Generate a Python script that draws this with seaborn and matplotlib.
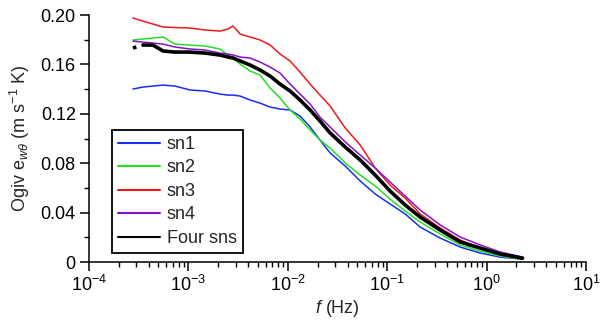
import numpy as np
import pandas as pd
import seaborn as sns
import matplotlib
matplotlib.use("Agg")
import matplotlib.pyplot as plt
from matplotlib.ticker import FixedLocator, MultipleLocator, FuncFormatter

# frequencies (Hz) shared by all series
freq = [2.77e-4, 3.50e-4, 4.40e-4, 5.56e-4, 7.34e-4, 1.04e-3, 1.47e-3, 2.08e-3,
        2.51e-3, 2.82e-3, 3.32e-3, 4.18e-3, 5.27e-3, 6.64e-3, 8.37e-3, 1.055e-2,
        1.33e-2, 1.68e-2, 2.11e-2, 2.67e-2, 3.79e-2, 5.36e-2, 7.59e-2, 0.107,
        0.152, 0.215, 0.342, 0.545, 0.867, 1.38, 2.30]

sn1 = [0.1401, 0.1417, 0.1425, 0.1433, 0.1425, 0.1393, 0.1385, 0.1360, 0.1352, 0.1352,
       0.1344, 0.1312, 0.1287, 0.1255, 0.1239, 0.1231, 0.1182, 0.1093, 0.0988, 0.0883,
       0.0777, 0.0656, 0.0551, 0.0470, 0.0389, 0.0283, 0.0194, 0.0121, 0.0073, 0.0040, 0.0024]
sn2 = [0.1798, 0.1806, 0.1814, 0.1822, 0.1765, 0.1757, 0.1749, 0.1725, 0.1676, 0.1652,
       0.1603, 0.1547, 0.1514, 0.1409, 0.1328, 0.1231, 0.1158, 0.1069, 0.0988, 0.0923,
       0.0802, 0.0704, 0.0615, 0.0510, 0.0413, 0.0324, 0.0227, 0.0138, 0.0089, 0.0049, 0.0024]
sn3 = [0.1976, 0.1951, 0.1927, 0.1903, 0.1899, 0.1895, 0.1879, 0.1870, 0.1887, 0.1911,
       0.1846, 0.1822, 0.1798, 0.1757, 0.1684, 0.1628, 0.1538, 0.1441, 0.1352, 0.1263,
       0.1085, 0.0947, 0.0761, 0.0623, 0.0518, 0.0389, 0.0275, 0.0178, 0.0113, 0.0065, 0.0024]
sn4 = [0.1789, 0.1781, 0.1773, 0.1765, 0.1741, 0.1725, 0.1717, 0.1692, 0.1684, 0.1676,
       0.1660, 0.1652, 0.1619, 0.1579, 0.1530, 0.1441, 0.1360, 0.1279, 0.1174, 0.1093,
       0.0972, 0.0866, 0.0761, 0.0648, 0.0534, 0.0421, 0.0300, 0.0202, 0.0138, 0.0081, 0.0040]
four = [0.1733, 0.1757, 0.1757, 0.1709, 0.1700, 0.1700, 0.1692, 0.1676, 0.1660, 0.1652,
        0.1628, 0.1595, 0.1555, 0.1506, 0.1441, 0.1385, 0.1312, 0.1231, 0.1142, 0.1045,
        0.0931, 0.0826, 0.0704, 0.0575, 0.0462, 0.0364, 0.0259, 0.0162, 0.0113, 0.0065, 0.0032]

names = ["sn1", "sn2", "sn3", "sn4", "Four sns"]
colors = ["#1a2ef0", "#22e022", "#f01818", "#8a10c8", "#000000"]
widths = [1.1, 1.1, 1.1, 1.1, 2.6]

rows = []
for name, vals in zip(names, [sn1, sn2, sn3, sn4, four]):
    for f, v in zip(freq, vals):
        rows.append({"f": f, "ogive": v, "series": name})
df = pd.DataFrame(rows)

sns.set_style("ticks")
plt.rcParams["font.family"] = ["Liberation Sans", "DejaVu Sans"]
plt.rcParams["mathtext.fontset"] = "custom"
plt.rcParams["mathtext.rm"] = "Liberation Sans"
plt.rcParams["mathtext.it"] = "Liberation Sans:italic"
plt.rcParams["mathtext.sf"] = "Liberation Sans"

fig = plt.figure(figsize=(6.01, 3.2), dpi=100)
ax = fig.add_axes([0.148, 0.181, 0.827, 0.772])

for name, col, lw in zip(names, colors, widths):
    sub = df[df["series"] == name]
    if name == "Four sns":
        sns.lineplot(data=sub.iloc[1:], x="f", y="ogive", color=col, lw=lw,
                     label=name, ax=ax)
        sns.lineplot(data=sub.iloc[:2], x="f", y="ogive", color=col, lw=lw,
                     ls=":", ax=ax, legend=False)
    else:
        sns.lineplot(data=sub, x="f", y="ogive", color=col, lw=lw, label=name, ax=ax)

ax.set_xscale("log")
ax.set_xlim(1e-4, 1e1)
ax.set_ylim(0, 0.20)
ax.yaxis.set_major_locator(FixedLocator([0, 0.04, 0.08, 0.12, 0.16, 0.20]))
ax.yaxis.set_minor_locator(MultipleLocator(0.02))
ax.yaxis.set_major_formatter(FuncFormatter(lambda v, p: "0" if abs(v) < 1e-9 else f"{v:.2f}"))

sns.despine(ax=ax)
for s in ["left", "bottom"]:
    ax.spines[s].set_linewidth(1.1)
    ax.spines[s].set_color("black")
ax.tick_params(which="major", direction="out", length=6.5, width=1.1, labelsize=13,
               colors="black", pad=3)
ax.tick_params(which="minor", direction="out", length=3.5, width=1.0, colors="black")

ax.set_xlabel("$f$ (Hz)", fontsize=13, labelpad=2)
ax.set_ylabel(r"Ogiv e$_{w\theta}$ (m s$^{-1}$ K)", fontsize=13, labelpad=6)

leg = ax.legend(loc="lower left", bbox_to_anchor=(0.046, 0.036), fontsize=13,
                frameon=True, fancybox=False, edgecolor="black", framealpha=1,
                handlelength=2.3, handletextpad=0.4, labelspacing=0.36,
                borderpad=0.35, borderaxespad=0)
leg.get_frame().set_linewidth(1.3)
for line in leg.legend_handles:
    line.set_linewidth(1.5)

fig.savefig("out.png", dpi=100)
